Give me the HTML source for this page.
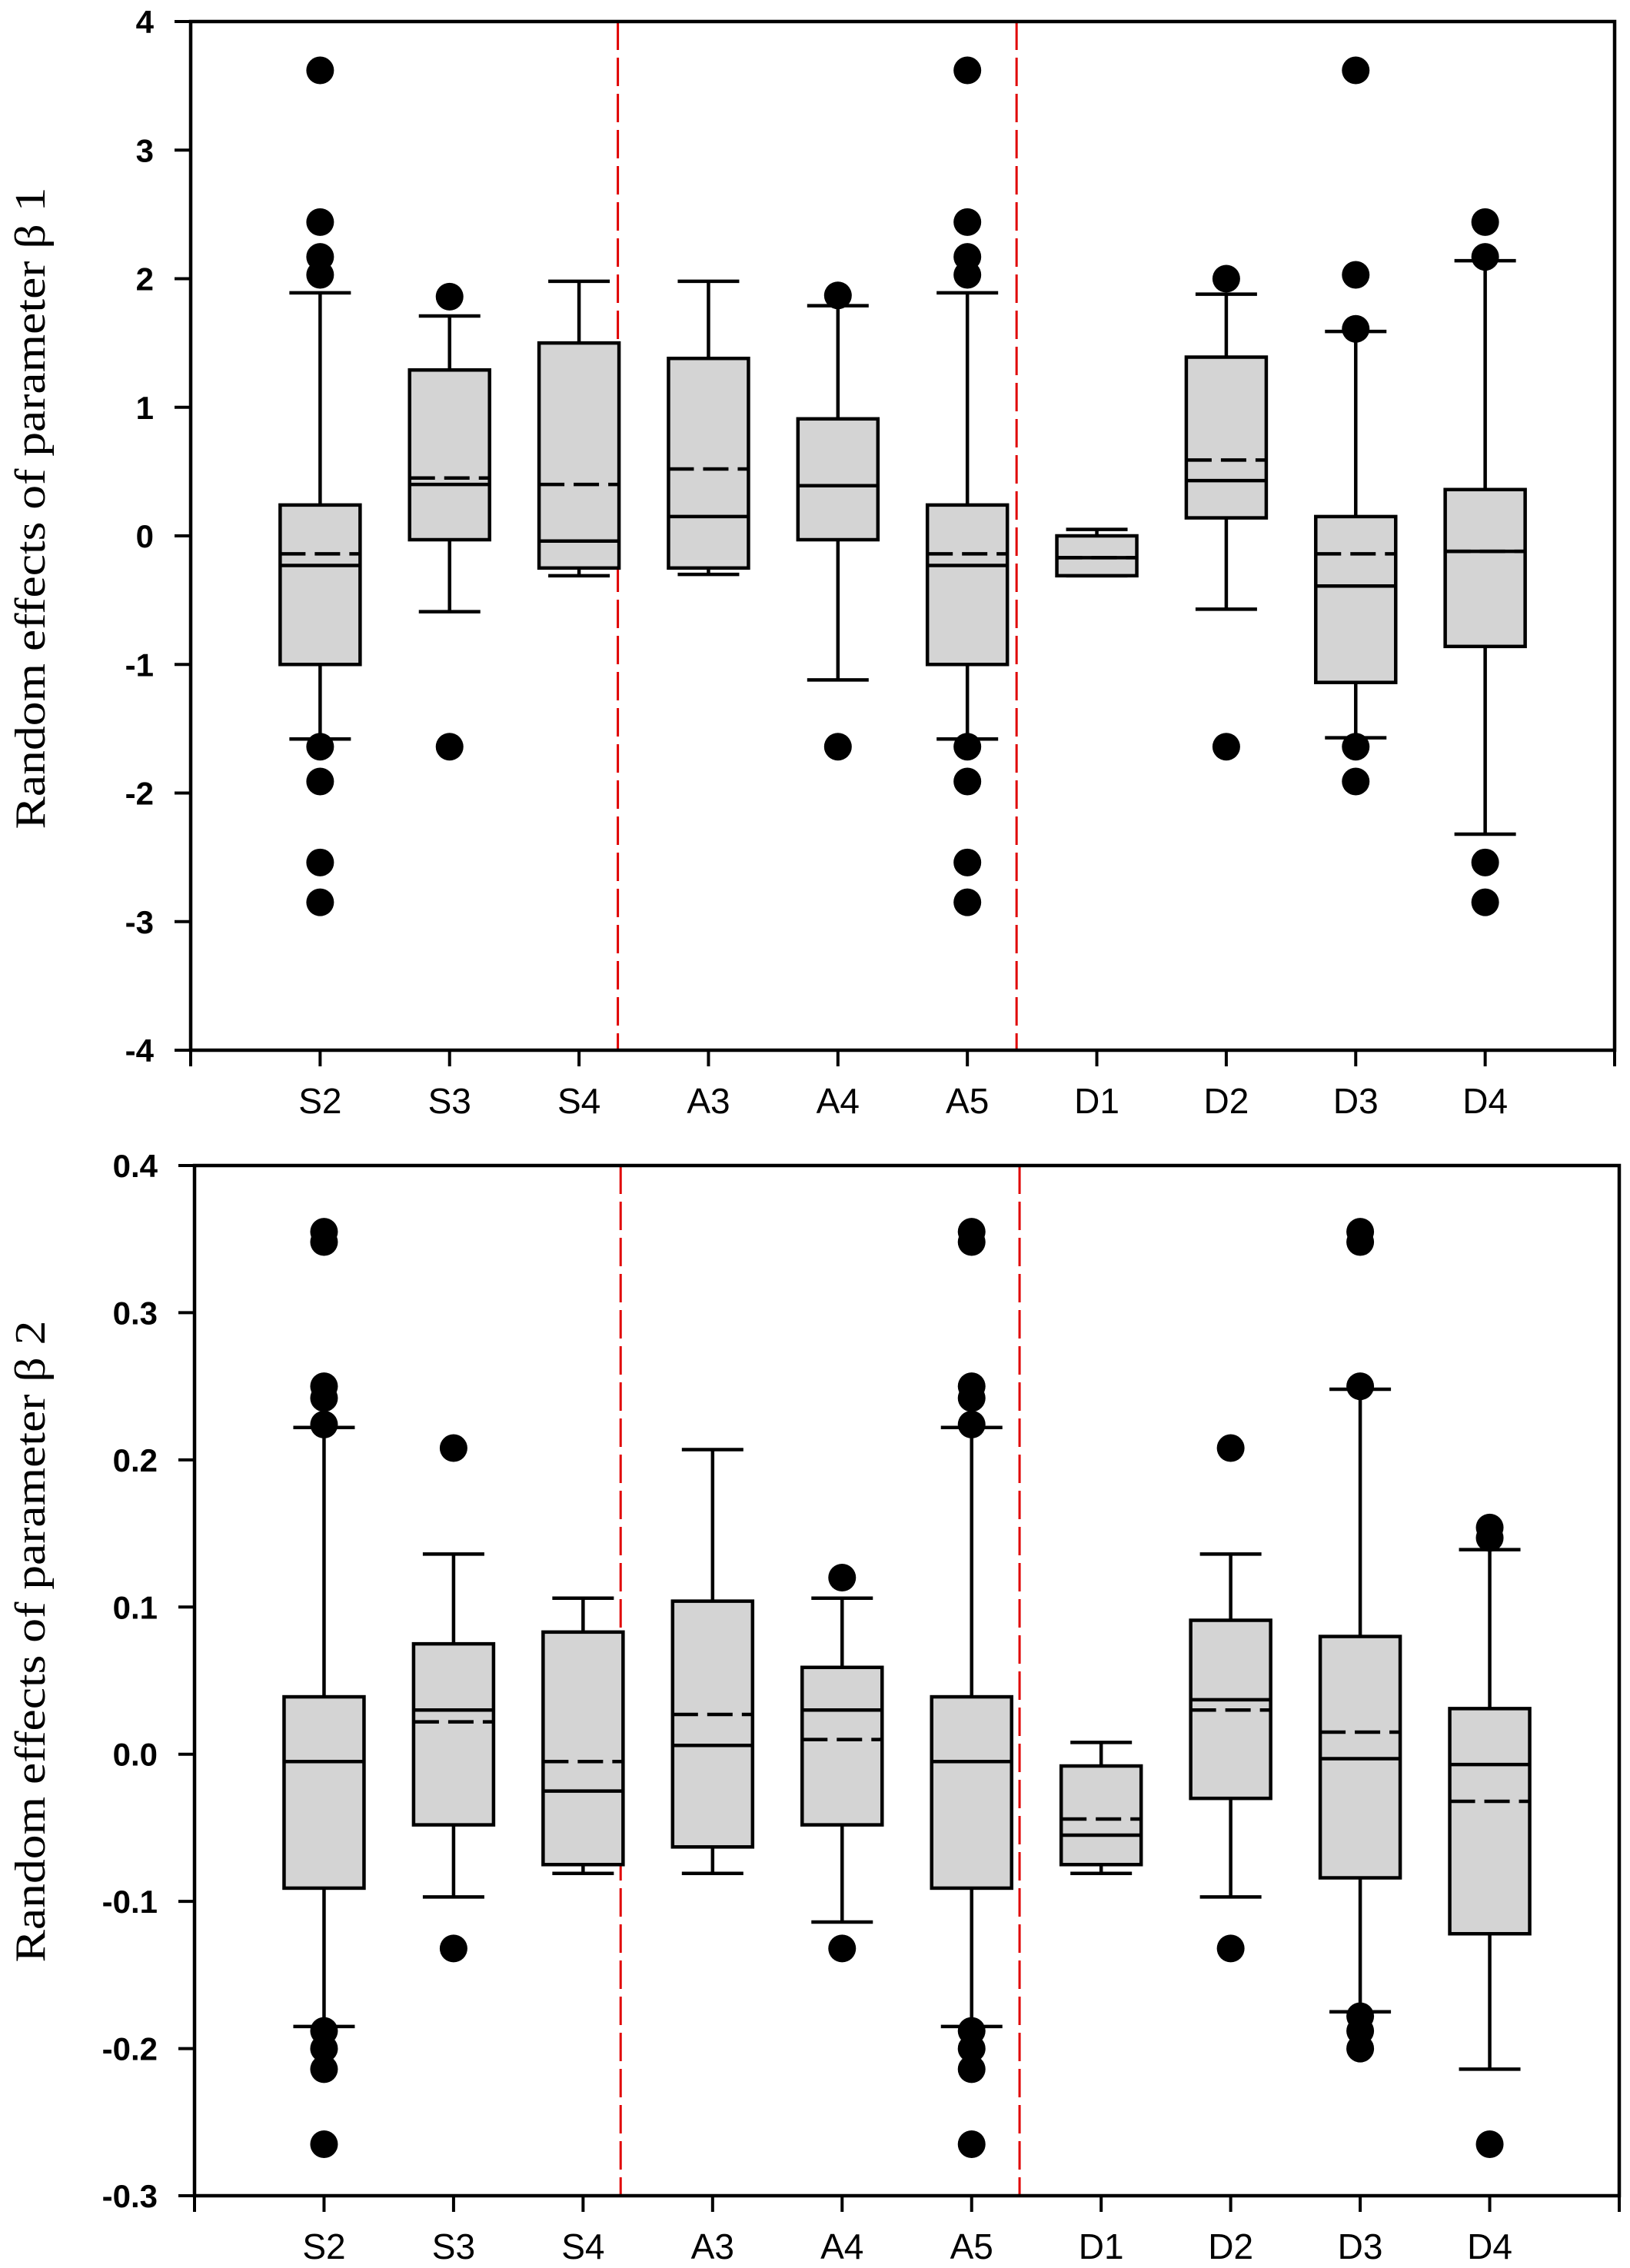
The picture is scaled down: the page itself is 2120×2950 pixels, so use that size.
<!DOCTYPE html>
<html><head><meta charset="utf-8"><style>
html,body{margin:0;padding:0;background:#fff;}
svg{display:block;}
</style></head><body>
<svg id="chart" xmlns="http://www.w3.org/2000/svg" width="2120" height="2950" viewBox="0 0 2120 2950"></svg>
<script>
// ---- shared data ----
const categories = ["S2","S3","S4","A3","A4","A5","D1","D2","D3","D4"];
// Panel 1 (beta 1)
const b1WhiskHigh = [1.89,1.71,1.98,1.98,1.79,1.89,0.05,1.88,1.59,2.14];
const b1Q3        = [0.24,1.29,1.50,1.38,0.91,0.24,0.00,1.39,0.15,0.36];
const b1Median    = [-0.23,0.40,-0.04,0.15,0.39,-0.23,-0.17,0.43,-0.39,-0.12];
const b1Mean      = [-0.14,0.45,0.40,0.52,0.39,-0.14,-0.17,0.59,-0.14,-0.12];
const b1Q1        = [-1.00,-0.03,-0.25,-0.25,-0.03,-1.00,-0.31,0.14,-1.14,-0.86];
const b1WhiskLow  = [-1.58,-0.59,-0.31,-0.30,-1.12,-1.58,-0.31,-0.57,-1.57,-2.32];
const b1Outliers  = [
  [3.62,2.44,2.17,2.03,-1.64,-1.91,-2.54,-2.85],
  [1.86,-1.64],
  [],
  [],
  [1.87,-1.64],
  [3.62,2.44,2.17,2.03,-1.64,-1.91,-2.54,-2.85],
  [],
  [2.0,-1.64],
  [3.62,2.03,1.61,-1.64,-1.91],
  [2.44,2.17,-2.54,-2.85]
];
const b1Ticks = [4,3,2,1,0,-1,-2,-3,-4];
const b1TickLabels = ["4","3","2","1","0","-1","-2","-3","-4"];
// Panel 2 (beta 2)
const b2WhiskHigh = [0.222,0.136,0.106,0.207,0.106,0.222,0.008,0.136,0.248,0.139];
const b2Q3        = [0.039,0.075,0.083,0.104,0.059,0.039,-0.008,0.091,0.080,0.031];
const b2Median    = [-0.005,0.030,-0.025,0.006,0.030,-0.005,-0.055,0.037,-0.003,-0.007];
const b2Mean      = [-0.005,0.022,-0.005,0.027,0.010,-0.005,-0.044,0.030,0.015,-0.032];
const b2Q1        = [-0.091,-0.048,-0.075,-0.063,-0.048,-0.091,-0.075,-0.030,-0.084,-0.122];
const b2WhiskLow  = [-0.185,-0.097,-0.081,-0.081,-0.114,-0.185,-0.081,-0.097,-0.175,-0.214];
const b2Outliers  = [
  [0.355,0.348,0.250,0.242,0.224,-0.188,-0.200,-0.214,-0.265],
  [0.208,-0.132],
  [],
  [],
  [0.120,-0.132],
  [0.355,0.348,0.250,0.242,0.224,-0.188,-0.200,-0.214,-0.265],
  [],
  [0.208,-0.132],
  [0.355,0.348,0.250,-0.178,-0.188,-0.200],
  [0.154,0.147,-0.265]
];
const b2Ticks = [0.4,0.3,0.2,0.1,0.0,-0.1,-0.2,-0.3];
const b2TickLabels = ["0.4","0.3","0.2","0.1","0.0","-0.1","-0.2","-0.3"];
// group separators (in category-slot units, S2 = 1)
const b1Separators = [3.30, 6.38];
const b2Separators = [3.29, 6.37];

const NS = "http://www.w3.org/2000/svg";
const svg = document.getElementById("chart");
function mk(tag, attrs, parent){
  const e = document.createElementNS(NS, tag);
  for (const k in attrs) e.setAttribute(k, attrs[k]);
  (parent||svg).appendChild(e);
  return e;
}

function panel(p){
  const g = mk("g", {});
  
  
  const slot = (p.x1 - p.x0) / 11;
  const xs = i => p.x0 + slot * i;
  const ys = v => p.y0 + (p.vmax - v) / (p.vmax - p.vmin) * (p.y1 - p.y0);
  const halfBox = 52, halfCap = 40, lw = 4.5;

  // separators
  p.seps.forEach((s, i) => {
    const l = mk("line", {x1: xs(s), x2: xs(s), y1: p.y0, y2: p.y1, stroke: "#e00000", "stroke-width": 3, "stroke-dasharray": "37 10"}, g);
    
    
  });

  categories.forEach((c, i) => {
    const cx = xs(i + 1);
    const bg = mk("g", {}, g);
    
    
    // whiskers
    mk("line", {x1: cx, x2: cx, y1: ys(p.wh[i]), y2: ys(p.q3[i]), stroke: "#000", "stroke-width": lw}, bg);
    mk("line", {x1: cx, x2: cx, y1: ys(p.q1[i]), y2: ys(p.wl[i]), stroke: "#000", "stroke-width": lw}, bg);
    mk("line", {x1: cx - halfCap, x2: cx + halfCap, y1: ys(p.wh[i]), y2: ys(p.wh[i]), stroke: "#000", "stroke-width": lw}, bg);
    mk("line", {x1: cx - halfCap, x2: cx + halfCap, y1: ys(p.wl[i]), y2: ys(p.wl[i]), stroke: "#000", "stroke-width": lw}, bg);
    // box
    const yt = ys(p.q3[i]), yb = ys(p.q1[i]);
    mk("rect", {x: cx - halfBox, y: yt, width: 2 * halfBox, height: Math.max(yb - yt, 1), fill: "#d4d4d4", stroke: "#000", "stroke-width": lw}, bg);
    // median
    mk("line", {x1: cx - halfBox, x2: cx + halfBox, y1: ys(p.med[i]), y2: ys(p.med[i]), stroke: "#000", "stroke-width": lw}, bg);
    // mean
    mk("line", {x1: cx - halfBox, x2: cx + halfBox, y1: ys(p.mean[i]), y2: ys(p.mean[i]), stroke: "#000", "stroke-width": lw, "stroke-dasharray": "33 12"}, bg);
    // outliers
    p.out[i].forEach(v => {
      const d = mk("circle", {cx: cx, cy: ys(v), r: 18, fill: "#000"}, bg);
      
      
    });
    // x tick + label
    mk("line", {x1: cx, x2: cx, y1: p.y1, y2: p.y1 + 21, stroke: "#000", "stroke-width": 4}, g);
    const t = mk("text", {x: cx, y: p.y1 + 82, "text-anchor": "middle", "font-family": "Liberation Sans, Arial, sans-serif", "font-size": 46, fill: "#000"}, g);
    t.textContent = c;
    
    
  });
  // left tick at axis start (x)
  mk("line", {x1: p.x0, x2: p.x0, y1: p.y1, y2: p.y1 + 21, stroke: "#000", "stroke-width": 4}, g);
  mk("line", {x1: p.x1, x2: p.x1, y1: p.y1, y2: p.y1 + 21, stroke: "#000", "stroke-width": 4}, g);

  // y ticks
  p.ticks.forEach((v, i) => {
    const y = ys(v);
    mk("line", {x1: p.x0 - 21, x2: p.x0, y1: y, y2: y, stroke: "#000", "stroke-width": 4}, g);
    const t = mk("text", {x: p.x0 - 48, y: y + 15, "text-anchor": "end", "font-family": "Liberation Sans, Arial, sans-serif", "font-weight": "bold", "font-size": 42, fill: "#000"}, g);
    t.textContent = p.tickLabels[i];
    
    
  });

  // frame
  const fr = mk("rect", {x: p.x0, y: p.y0, width: p.x1 - p.x0, height: p.y1 - p.y0, fill: "none", stroke: "#000", "stroke-width": 4.5}, g);
  
  

  // y title
  const tt = mk("text", {x: 0, y: 0, transform: "translate(58," + p.titleY + ") rotate(-90)", "text-anchor": "middle", "font-family": "Liberation Serif, serif", "font-size": 56, fill: "#000", textLength: 835, lengthAdjust: "spacingAndGlyphs"}, g);
  tt.textContent = p.title;
  
  
}

panel({name: "panel-beta1", x0: 248, x1: 2100, y0: 28, y1: 1366, vmax: 4, vmin: -4,
  wh: b1WhiskHigh, q3: b1Q3, med: b1Median, mean: b1Mean, q1: b1Q1, wl: b1WhiskLow, out: b1Outliers,
  ticks: b1Ticks, tickLabels: b1TickLabels, seps: b1Separators, titleY: 661,
  title: "Random effects of parameter \u03b2 1"});
panel({name: "panel-beta2", x0: 253, x1: 2106, y0: 1516, y1: 2856, vmax: 0.4, vmin: -0.3,
  wh: b2WhiskHigh, q3: b2Q3, med: b2Median, mean: b2Mean, q1: b2Q1, wl: b2WhiskLow, out: b2Outliers,
  ticks: b2Ticks, tickLabels: b2TickLabels, seps: b2Separators, titleY: 2135,
  title: "Random effects of parameter \u03b2 2"});
</script>
</body></html>
